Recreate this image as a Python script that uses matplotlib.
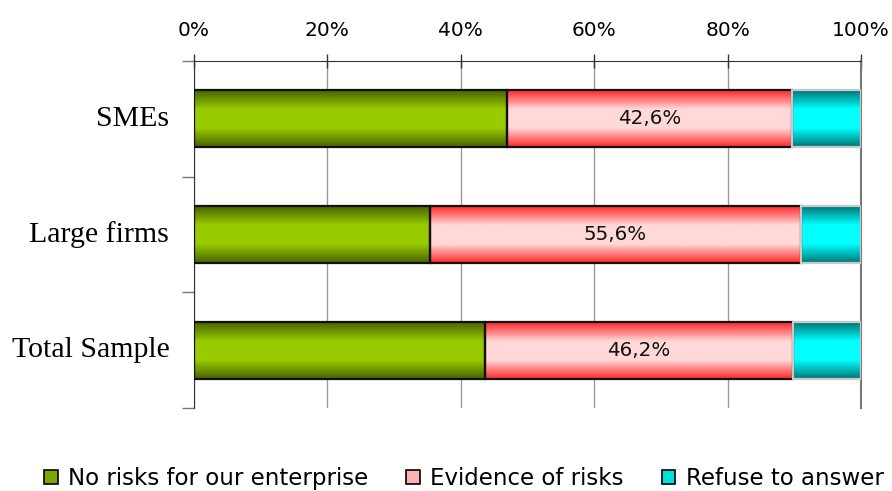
import numpy as np
import matplotlib
matplotlib.use("Agg")
import matplotlib.pyplot as plt
from matplotlib.colors import LinearSegmentedColormap
from matplotlib.patches import Rectangle
from matplotlib.ticker import FuncFormatter

# data (percent of respondents)
categories = ['SMEs', 'Large firms', 'Total Sample']
no_risks = [47.0, 35.4, 43.6]
evidence = [42.6, 55.6, 46.2]
refuse = [10.4, 9.0, 10.2]
series_names = ['No risks for our enterprise', 'Evidence of risks', 'Refuse to answer']
value_labels = ['42,6%', '55,6%', '46,2%']

# edge colour -> centre colour of each horizontal gradient band
grad_colors = [('#4a6400', '#99cc00'), ('#ff2a2a', '#ffd8d8'), ('#007878', '#00ffff')]
legend_colors = ['#7aa800', '#ffb0b0', '#00dede']
border_colors = ['#111111', '#111111', '#c8c8c8']

fig = plt.figure(figsize=(8.92, 4.91), dpi=100)
ax = fig.add_axes([0.2175, 0.169, 0.7477, 0.7068])

bar_h = 0.49
ypos = np.arange(len(categories))
lefts = np.zeros(len(categories))

for s, vals in enumerate([no_risks, evidence, refuse]):
    edge, centre = grad_colors[s]
    cmap = LinearSegmentedColormap.from_list(f'g{s}', [edge, centre, centre, edge])
    grad = np.linspace(0, 1, 64).reshape(-1, 1)
    for i, v in enumerate(vals):
        x0 = lefts[i]
        ax.imshow(grad, cmap=cmap, aspect='auto', interpolation='bilinear',
                  extent=(x0, x0 + v, ypos[i] + bar_h / 2, ypos[i] - bar_h / 2),
                  zorder=2)
    ax.barh(ypos, vals, left=lefts, height=bar_h, facecolor='none',
            edgecolor=border_colors[s], linewidth=1.6, zorder=3)
    if s == 1:
        for i, v in enumerate(vals):
            ax.text(lefts[i] + v / 2, ypos[i], value_labels[i], ha='center', va='center',
                    fontsize=14.3, color='#111111', zorder=4)
    lefts = lefts + np.array(vals)

ax.set_xlim(0, 100)
ax.set_ylim(len(categories) - 0.5, -0.5)

# axes styling
ax.xaxis.tick_top()
ax.set_xticks([0, 20, 40, 60, 80, 100])
ax.xaxis.set_major_formatter(FuncFormatter(lambda x, p: f'{x:.0f}%'))
ax.tick_params(axis='x', direction='inout', length=10, width=1, colors='#333333',
               labelsize=14.5, labelcolor='black', pad=10)
ax.set_yticks([-0.5, 0.5, 1.5, 2.5])
ax.set_yticklabels([])
ax.tick_params(axis='y', direction='out', length=9, width=1, colors='#777777')
for i, c in enumerate(categories):
    ax.text(-0.037, ypos[i], c, transform=ax.get_yaxis_transform(), ha='right', va='center',
            fontsize=21.5, family='Liberation Serif')

ax.grid(axis='x', color='#999999', linewidth=1, zorder=0)
ax.set_axisbelow(True)
ax.spines['bottom'].set_visible(False)
ax.spines['top'].set_color('#333333')
ax.spines['left'].set_color('#333333')
ax.spines['right'].set_color('#777777')
ax.spines['right'].set_linewidth(1.5)

handles = [Rectangle((0, 0), 1, 1, facecolor=legend_colors[k], edgecolor='black', linewidth=1.2)
           for k in range(3)]
fig.legend(handles, series_names, loc='lower center', bbox_to_anchor=(0.52, -0.04), ncol=3,
           frameon=False, fontsize=16.5, handlelength=0.6, handleheight=0.6,
           handletextpad=0.45, columnspacing=1.65)

fig.savefig('out.png', dpi=100, facecolor='white')
